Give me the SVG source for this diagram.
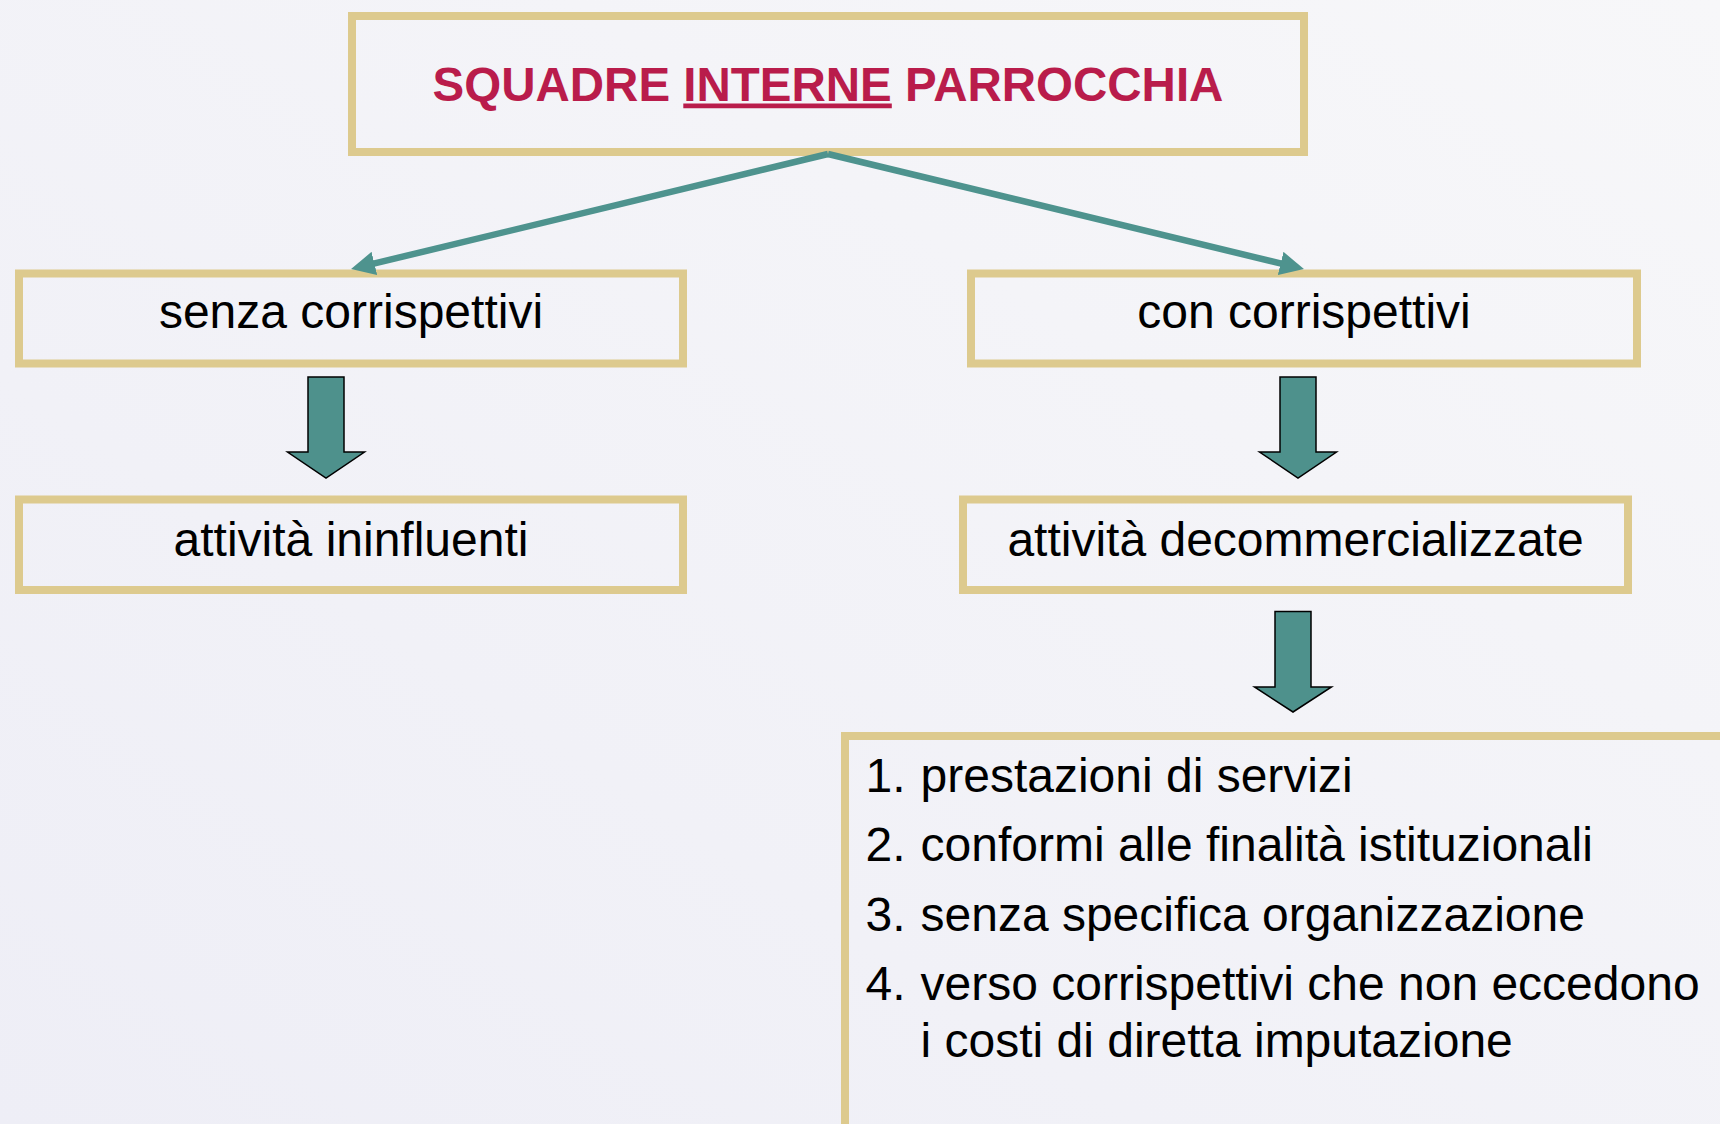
<svg xmlns="http://www.w3.org/2000/svg" width="1720" height="1124" viewBox="0 0 1720 1124">
  <defs>
    <linearGradient id="bg" x1="1" y1="0" x2="0" y2="1">
      <stop offset="0" stop-color="#F7F7F9"/>
      <stop offset="1" stop-color="#EEEEF6"/>
    </linearGradient>
    <marker id="ah" viewBox="0 0 24 24" refX="4" refY="12" markerWidth="24" markerHeight="24" markerUnits="userSpaceOnUse" orient="auto">
      <path d="M0,0 L24,12 L0,24 z" fill="#4E938E"/>
    </marker>
    <style>
      .box { fill: none; stroke: #DDCA8E; stroke-width: 8; }
      .lbl { font-family: "Liberation Sans", Arial, sans-serif; font-size: 48px; fill: #000; }
      .title { font-family: "Liberation Sans", Arial, sans-serif; font-size: 47.5px; font-weight: bold; fill: #B91C4B; }
      .conn { stroke: #4E938E; stroke-width: 6.5; fill: none; }
      .barrow { fill: #4E918C; stroke: #000; stroke-width: 1.5; stroke-linejoin: miter; }
    </style>
  </defs>
  <rect x="0" y="0" width="1720" height="1124" fill="url(#bg)"/>

  <g id="node-title">
    <rect class="box" x="352" y="16" width="952" height="136"/>
    <text class="title" x="828" y="100.5" text-anchor="middle">SQUADRE <tspan text-decoration="underline">INTERNE</tspan> PARROCCHIA</text>
  </g>

  <g id="node-senza">
    <rect class="box" x="19" y="273.5" width="664" height="90"/>
    <text class="lbl" x="351" y="328" text-anchor="middle">senza corrispettivi</text>
  </g>

  <g id="node-con">
    <rect class="box" x="971" y="273.5" width="666" height="90"/>
    <text class="lbl" x="1304" y="328" text-anchor="middle">con corrispettivi</text>
  </g>

  <g id="node-ininfluenti">
    <rect class="box" x="19" y="499.5" width="664" height="90.5"/>
    <text class="lbl" x="351" y="556" text-anchor="middle">attività ininfluenti</text>
  </g>

  <g id="node-decomm">
    <rect class="box" x="963" y="499.5" width="665" height="90.5"/>
    <text class="lbl" x="1295.5" y="556" text-anchor="middle">attività decommercializzate</text>
  </g>

  <g id="node-list">
    <rect class="box" x="845" y="736" width="900" height="420"/>
    <text class="lbl" x="865.5" y="791.5">1.</text>
    <text class="lbl" x="920.5" y="791.5">prestazioni di servizi</text>
    <text class="lbl" x="865.5" y="861">2.</text>
    <text class="lbl" x="920.5" y="861">conformi alle finalità istituzionali</text>
    <text class="lbl" x="865.5" y="930.5">3.</text>
    <text class="lbl" x="920.5" y="930.5">senza specifica organizzazione</text>
    <text class="lbl" x="865.5" y="999.5">4.</text>
    <text class="lbl" x="920.5" y="999.5">verso corrispettivi che non eccedono</text>
    <text class="lbl" x="920.5" y="1056.5">i costi di diretta imputazione</text>
  </g>

  <g id="connectors">
    <line class="conn" x1="828" y1="154" x2="370.5" y2="264.4" marker-end="url(#ah)"/>
    <line class="conn" x1="828" y1="154" x2="1284.5" y2="264.4" marker-end="url(#ah)"/>
    <polygon class="barrow" points="308,377 344,377 344,452 364.5,452 326,478 287.5,452 308,452"/>
    <polygon class="barrow" points="1280,377 1316,377 1316,452 1336.5,452 1298,478 1259.5,452 1280,452"/>
    <polygon class="barrow" points="1275,611.5 1311,611.5 1311,687 1331.5,687 1293,712 1254.5,687 1275,687"/>
  </g>
</svg>
